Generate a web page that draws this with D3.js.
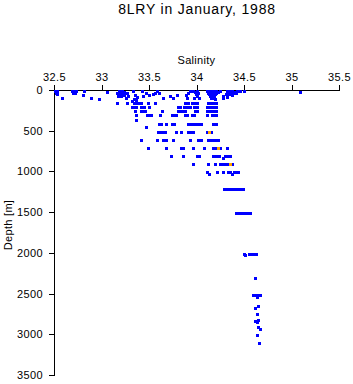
<!DOCTYPE html>
<html>
<head>
<meta charset="utf-8">
<script src="https://cdn.jsdelivr.net/npm/d3@7"></script>
<style>
  html, body { margin: 0; padding: 0; background: #fff; }
  svg { display: block; }
  text { font-family: "Liberation Sans", Arial, Helvetica, sans-serif; fill: #000; }
</style>
</head>
<body>
<svg id="chart" width="353" height="384"></svg>
<script>
// ---------- data ----------
const title = "8LRY in January, 1988";
const xLabel = "Salinity";
const yLabel = "Depth [m]";
const salinityTicks = [32.5, 33, 33.5, 34, 34.5, 35, 35.5];
const depthTicks = [0, 500, 1000, 1500, 2000, 2500, 3000, 3500];

// [salinity, depth] observations, blue series, upper layer (0-110 m)
const surfaceObs = [
  [32.51,0],[32.53,0],[32.52,20],[32.53,40],[32.58,80],
  [32.69,0],[32.71,0],[32.73,0],[32.72,20],[32.70,30],
  [32.82,0],[32.81,50],[32.89,80],[32.97,100],[33.06,10],
  [33.16,20],[33.18,0],[33.20,0],[33.22,0],[33.18,20],[33.21,10],[33.24,10],[33.19,40],[33.22,30],[33.25,30],
  [33.17,60],[33.21,60],[33.24,50],[33.27,20],[33.28,60],[33.26,90],
  [33.33,0],[33.35,50],[33.37,70],[33.34,100],[33.36,110],[33.43,0],[33.47,30],[33.44,60],[33.50,50],
  [33.54,40],[33.58,0],[33.56,20],[33.61,30],[33.65,80],[33.72,60],[33.75,80],[33.79,50],[33.89,50],
  [33.91,20],[33.93,0],[33.90,80],
  [33.96,0],[33.98,10],[34.00,0],[34.02,20],[33.99,40],[34.01,60],[33.97,80],[34.03,90],
  [34.11,0],[34.13,0],[34.15,0],[34.17,0],[34.19,0],[34.21,0],[34.12,20],[34.14,20],[34.16,20],[34.18,20],[34.20,20],
  [34.13,40],[34.15,40],[34.17,40],[34.19,40],[34.14,60],[34.16,60],[34.18,60],[34.15,80],[34.17,80],[34.19,100],
  [34.23,10],[34.25,0],
  [34.32,0],[34.34,0],[34.37,0],[34.40,10],[34.43,0],[34.46,0],[34.50,0],[34.33,20],[34.36,20],[34.39,20],[34.42,30],
  [34.31,40],[34.34,40],[34.37,50],[34.28,60],[34.32,70],[34.28,80],
  [35.09,10]
];

// blue series, intermediate layer (125-1000 m)
const middleObs = [
  [33.16,150],[33.27,150],[33.32,125],[33.34,150],[33.36,150],[33.38,150],[33.42,150],[33.49,150],[33.56,150],
  [33.88,150],[33.91,150],[33.95,150],[33.97,150],[34.01,150],[34.12,150],[34.14,150],[34.16,150],[34.18,150],[34.21,150],
  [33.32,200],[33.34,200],[33.36,200],[33.42,200],[33.44,200],[33.45,200],[33.50,200],[33.81,200],[33.83,200],
  [33.87,200],[33.89,200],[33.91,200],[33.93,200],[33.97,200],[34.00,200],[34.11,200],[34.13,200],[34.16,200],[34.18,200],[34.21,200],
  [33.35,250],[33.42,250],[33.44,250],[33.46,250],[33.64,250],[33.81,250],[33.83,250],[33.85,250],[33.88,250],
  [33.98,250],[34.00,250],[34.11,250],[34.13,250],[34.16,250],[34.18,250],[34.21,250],
  [33.36,300],[33.48,300],[33.50,300],[33.52,300],[33.62,300],[33.74,300],[33.76,300],[33.78,300],[33.88,300],
  [33.90,300],[33.95,300],[33.97,300],[34.11,300],[34.16,300],[34.18,300],[34.21,300],
  [33.36,350],
  [33.61,400],[33.63,400],[33.68,400],[33.74,400],[33.76,400],[33.91,400],[33.93,400],[33.95,400],[33.97,400],
  [33.99,400],[34.02,400],[34.05,400],[34.17,400],[34.19,400],[34.21,400],
  [33.47,440],
  [33.59,500],[33.61,500],[33.63,500],[33.65,500],[33.67,500],[33.78,500],[33.84,500],[33.91,500],[33.93,500],
  [33.96,500],[34.11,500],[34.15,500],
  [33.42,600],[33.58,600],[33.65,600],[33.68,600],[33.75,600],[33.93,600],[34.02,600],[34.05,600],[34.12,600],
  [34.14,600],[34.17,600],[34.20,600],[34.23,600],
  [33.49,700],[33.68,700],[33.84,700],[33.86,700],[33.96,700],[34.08,700],[34.17,700],[34.19,700],[34.25,700],[34.32,700],
  [33.73,800],[33.86,800],[34.01,800],[34.03,800],[34.17,800],[34.19,800],[34.21,800],[34.24,800],[34.28,820],
  [34.30,800],[34.32,800],[34.35,800],
  [33.96,900],[34.12,900],[34.19,900],[34.25,900],[34.27,900],[34.29,900],[34.31,900],[34.33,900],[34.37,900],
  [34.11,1000],[34.13,1020],[34.22,1000],[34.28,1000],[34.33,1000],[34.35,1000],[34.37,1020],[34.39,1000],[34.42,1000],[34.44,1000]
];

// blue series, deep layer (1200 m and below)
const deepObs = [
  [34.29,1200],[34.31,1200],[34.33,1200],[34.36,1200],[34.38,1200],[34.40,1200],[34.42,1200],[34.44,1200],[34.46,1200],[34.49,1200],
  [34.42,1500],[34.44,1500],[34.46,1500],[34.48,1500],[34.50,1500],[34.52,1500],[34.54,1500],[34.56,1500],
  [34.50,2000],[34.51,2010],[34.55,2000],[34.57,2000],[34.59,2000],[34.61,2000],[34.63,2000],
  [34.62,2300],
  [34.59,2500],[34.62,2500],[34.65,2500],[34.67,2500],[34.64,2530],
  [34.65,2640],[34.62,2660],[34.64,2740],
  [34.65,2810],[34.62,2825],[34.64,2840],[34.65,2900],[34.67,2920],[34.64,3000],[34.66,3100]
];

// orange series
const orangeObs = [
  [34.13,500],[34.23,700],[34.35,900]
];

// ---------- drawing ----------
const svg = d3.select("#chart");
const mLeft = 54, mRight = 339, mTop = 90, mBottom = 375;

const x = d3.scaleLinear().domain([32.5, 35.5]).range([mLeft, mRight]);
const y = d3.scaleLinear().domain([0, 3500]).range([mTop, mBottom]);

svg.append("text")
  .attr("x", 197).attr("y", 14)
  .attr("text-anchor", "middle")
  .style("font-size", "14px")
  .style("letter-spacing", "0.8px")
  .text(title);

const xAxis = svg.append("g")
  .attr("transform", `translate(0,${mTop})`)
  .call(d3.axisTop(x).tickValues(salinityTicks).tickSize(5).tickSizeOuter(0).tickPadding(4)
        .tickFormat(d3.format("")));
xAxis.selectAll("text").style("font-size", "11px").style("letter-spacing", "0.4px").attr("fill", "#000");
xAxis.selectAll("line,path").attr("stroke", "#000").attr("shape-rendering", "crispEdges");

svg.append("text")
  .attr("x", (mLeft + mRight) / 2).attr("y", 64)
  .attr("text-anchor", "middle")
  .style("font-size", "11px")
  .style("letter-spacing", "0.3px")
  .text(xLabel);

const yAxis = svg.append("g")
  .attr("transform", `translate(${mLeft},0)`)
  .call(d3.axisLeft(y).tickValues(depthTicks).tickSize(5).tickSizeOuter(0).tickPadding(6)
        .tickFormat(d3.format("")));
yAxis.selectAll("text").style("font-size", "11px").style("letter-spacing", "0.4px").attr("fill", "#000");
yAxis.selectAll("line,path").attr("stroke", "#000").attr("shape-rendering", "crispEdges");

svg.append("text")
  .attr("transform", `translate(12,225) rotate(-90)`)
  .attr("text-anchor", "middle")
  .style("font-size", "11px")
  .style("letter-spacing", "0.3px")
  .text(yLabel);

const blue = surfaceObs.concat(middleObs, deepObs);

function drawPoints(data, color) {
  svg.append("g")
    .selectAll("rect")
    .data(data)
    .join("rect")
    .attr("x", d => Math.round(x(d[0])) - 1)
    .attr("y", d => Math.round(y(d[1])))
    .attr("width", 3)
    .attr("height", 3)
    .attr("fill", color)
    .attr("shape-rendering", "crispEdges");
}
drawPoints(blue, "#0000ff");
drawPoints(orangeObs, "#ffa500");
</script>
</body>
</html>
